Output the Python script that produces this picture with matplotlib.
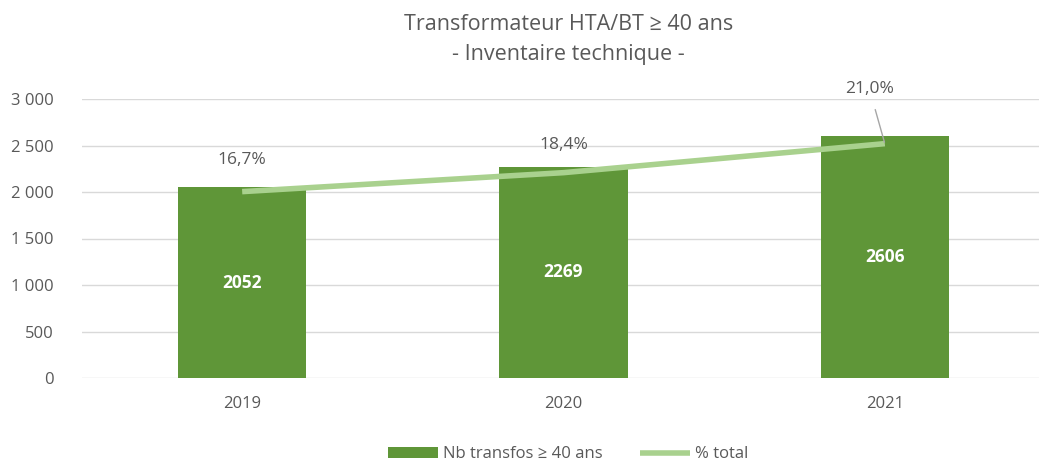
import matplotlib.pyplot as plt
import numpy as np

plt.rcParams['font.family'] = ['Open Sans', 'DejaVu Sans']

years = ["2019", "2020", "2021"]
nb_transfos = [2052, 2269, 2606]
pct_total = [0.167, 0.184, 0.210]
pct_labels = ["16,7%", "18,4%", "21,0%"]
y_ticks = [0, 500, 1000, 1500, 2000, 2500, 3000]
y_ticklabels = ["0", "500", "1 000", "1 500", "2 000", "2 500", "3 000"]

BAR = "#5f9638"
LINE = "#a9d18e"
TXT = "#595959"
GRID = "#d9d9d9"

fig = plt.figure(figsize=(10.39, 4.66), dpi=100)
ax = fig.add_axes([81.5 / 1039, 88 / 466, 964 / 1039, 279 / 466])
x = np.arange(len(years))

ax.bar(x, nb_transfos, width=0.4, color=BAR, zorder=2, label="Nb transfos \u2265 40 ans")
for xi, v in zip(x, nb_transfos):
    ax.text(xi, v / 2, str(v), ha="center", va="center", color="white",
            fontsize=12.5, fontweight="bold", zorder=4)

ax.set_xlim(-0.5, len(years) - 0.5)
ax.set_ylim(0, 3000)
ax.set_yticks(y_ticks)
ax.set_yticklabels(y_ticklabels)
ax.set_xticks(x)
ax.set_xticklabels(years)
ax.tick_params(length=0, colors=TXT, labelsize=12)
ax.tick_params(axis="x", pad=13)
ax.tick_params(axis="y", pad=20)
ax.grid(axis="y", color=GRID, lw=1, zorder=0)
for s in ax.spines.values():
    s.set_visible(False)

# percentage line on hidden secondary axis
ax2 = ax.twinx()
ax2.set_ylim(0, 0.25)
ax2.axis("off")
ax2.plot(x, pct_total, color=LINE, lw=4, solid_capstyle="butt", zorder=3,
         label="% total")
offsets = [(0, 23), (0, 20), (-11, 39)]
for xi, v, lab, off in zip(x, pct_total, pct_labels, offsets):
    if off[1] > 30:
        ax2.annotate(lab, (xi, v), xytext=off, textcoords="offset points",
                     ha="center", va="center", color=TXT, fontsize=12.5,
                     arrowprops=dict(arrowstyle="-", color="#a6a6a6", lw=1,
                                     shrinkA=7, shrinkB=1))
    else:
        ax2.annotate(lab, (xi, v), xytext=off, textcoords="offset points",
                     ha="center", va="center", color=TXT, fontsize=12.5)

fig.text(0.547, 0.948, "Transformateur HTA/BT \u2265 40 ans", ha="center",
         va="center", color=TXT, fontsize=15.5)
fig.text(0.547, 0.882, "- Inventaire technique -", ha="center",
         va="center", color=TXT, fontsize=15.5)

h1, l1 = ax.get_legend_handles_labels()
h2, l2 = ax2.get_legend_handles_labels()
fig.legend(h1 + h2, l1 + l2, loc="center", bbox_to_anchor=(0.547, 0.025),
           ncol=2, frameon=False, fontsize=12, labelcolor=TXT,
           handlelength=3, handleheight=0.7, columnspacing=2.2, handletextpad=0.3)

fig.savefig("out.png", dpi=100, facecolor="white")
